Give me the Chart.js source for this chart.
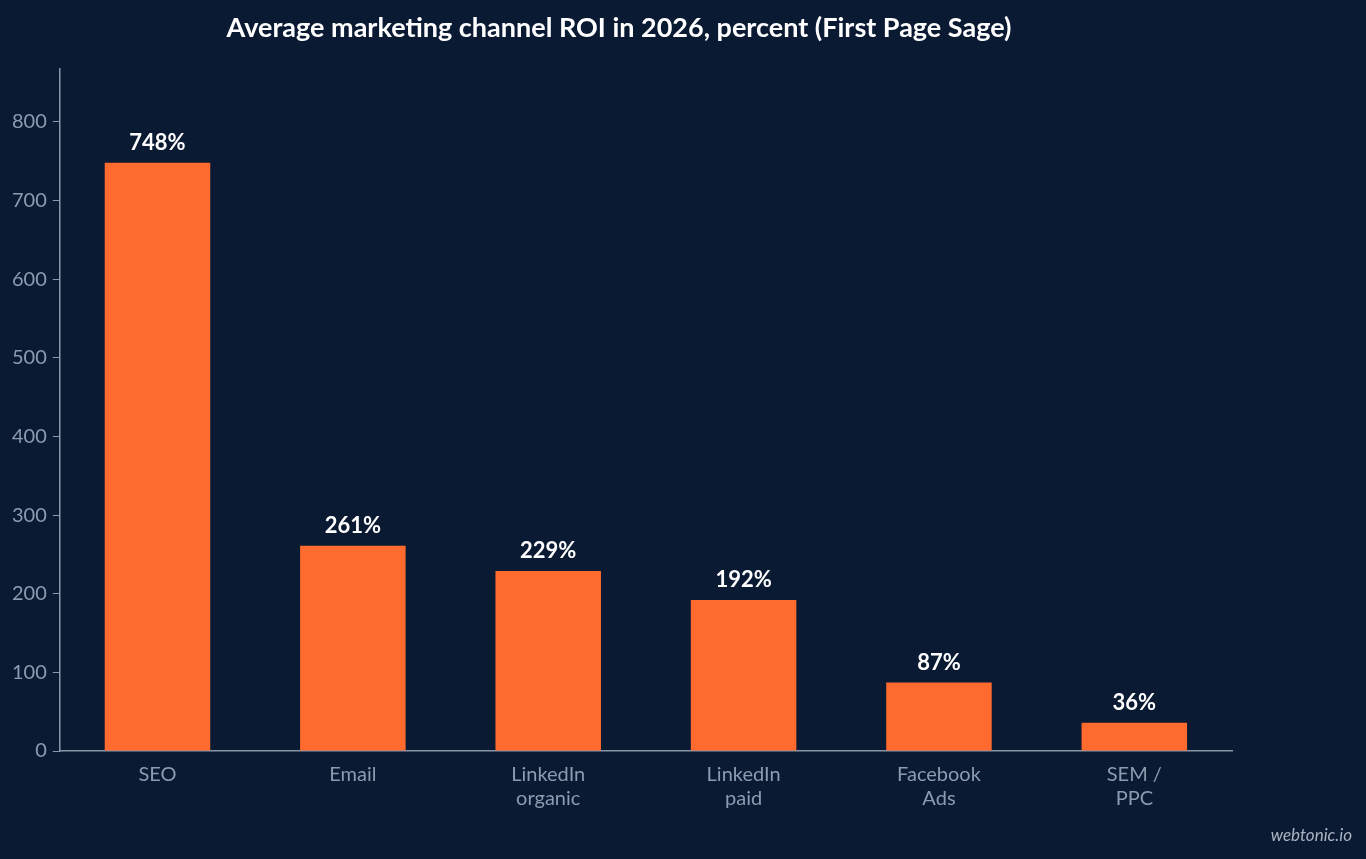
<!DOCTYPE html>
<html lang="en">
<head>
<meta charset="UTF-8">
<title>Marketing channel ROI</title>
<script src="https://cdn.jsdelivr.net/npm/chart.js"></script>
<style>
  html, body { margin: 0; padding: 0; background: #0b1a33; }
  #wrap { position: relative; width: 1366px; height: 859px; }
  #mark { position: absolute; right: 14px; bottom: 14px; color: #a9b3c2; font: italic 17px Lato, sans-serif; }
</style>
</head>
<body>
<div id="wrap">
  <canvas id="roi" width="1366" height="859"></canvas>
  <div id="mark">webtonic.io</div>
</div>
<script>
// data
const channels = [['SEO'], ['Email'], ['LinkedIn', 'organic'], ['LinkedIn', 'paid'], ['Facebook', 'Ads'], ['SEM /', 'PPC']];
const roi = [748, 261, 229, 192, 87, 36];

// value labels above bars
const valueLabels = {
    id: 'valueLabels',
    afterDatasetsDraw(chart) {
        const ctx = chart.ctx;
        ctx.save();
        ctx.fillStyle = '#ffffff';
        ctx.font = 'bold 22px Lato';
        ctx.textAlign = 'center';
        ctx.textBaseline = 'bottom';
        chart.getDatasetMeta(0).data.forEach((bar, i) => {
            ctx.fillText(roi[i] + '%', bar.x, bar.y - 9);
        });
        ctx.restore();
    }
};

Chart.defaults.font.family = 'Lato';

new Chart(document.getElementById('roi'), {
    type: 'bar',
    data: {
        labels: channels,
        datasets: [{
            data: roi,
            backgroundColor: '#ff6b2f',
            barPercentage: 0.54,
            categoryPercentage: 1
        }]
    },
    plugins: [valueLabels],
    options: {
        responsive: false,
        animation: false,
        devicePixelRatio: 1,
        layout: { padding: { left: 6, right: 134, top: 0, bottom: 36 } },
        plugins: {
            legend: { display: false },
            tooltip: { enabled: false },
            title: {
                display: true,
                text: 'Average marketing channel ROI in 2026, percent (First Page Sage)',
                color: '#ffffff',
                font: { size: 27, weight: 'bold' },
                padding: { top: 12, bottom: 24 }
            }
        },
        scales: {
            x: {
                grid: { display: false, drawTicks: false },
                border: { color: '#8a96a8', width: 1.5 },
                ticks: { color: '#8d9bb0', font: { size: 20 }, padding: 12 }
            },
            y: {
                min: 0,
                max: 868,
                afterBuildTicks(axis) {
                    axis.ticks = axis.ticks.filter(t => t.value % 100 === 0);
                },
                grid: { drawOnChartArea: false, color: '#8a96a8', tickLength: 7 },
                border: { color: '#8a96a8', width: 1.5 },
                ticks: { stepSize: 100, color: '#8d9bb0', font: { size: 20 }, padding: 6 }
            }
        }
    }
});
</script>
</body>
</html>
